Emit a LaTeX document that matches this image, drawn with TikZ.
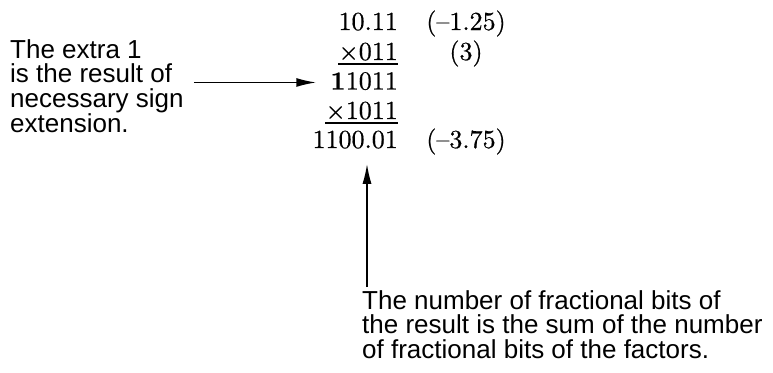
\documentclass[tikz,border=0pt]{standalone}
\usepackage{fontspec}
\setmainfont{lmroman10-regular}[Extension=.otf, BoldFont=lmroman10-bold, FakeBold=0.6]
\setsansfont{Liberation Sans}
\usetikzlibrary{arrows.meta}

\begin{document}
\begin{tikzpicture}[x=1pt,y=-1pt,>={Latex[length=20pt,width=9pt]},
  num/.style={inner sep=0pt, anchor=base east, font=\fontsize{26}{30}\selectfont},
  val/.style={inner sep=0pt, anchor=base, font=\fontsize{26}{30}\selectfont},
  note/.style={inner sep=0pt, align=left, anchor=north west, font=\sffamily\fontsize{26}{24.7}\selectfont},
  rule/.style={line width=1.4pt},
  pointer/.style={->, line width=1.6pt}]
\useasboundingbox (0,0) rectangle (773,372);

% the multiplication
\node[num] (r1) at (398,30) {10.11};
\node[num] (r2) at (398,60) {×011};
\node[num] (r3) at (398,89.5) {1011};
\node[num, font=\fontsize{26}{30}\selectfont\bfseries] (sign) at (r3.base west) {1};
\node[num] (r4) at (398,119) {×1011};
\node[num] (r5) at (398,148) {1100.01};

\draw[rule] ([yshift=-4pt]r2.base west) -- ([yshift=-4pt]r2.base east);
\draw[rule] ([yshift=-4pt]r4.base west) -- ([yshift=-4pt]r4.base east);

% decimal values
\node[val] (v1) at (466,30) {(--1.25)};
\node[val] (v2) at (466,60) {(3)};
\node[val] (v5) at (466,148) {(--3.75)};

% remarks
\node[note] (extra) at (10,39) {The extra 1\\is the result of\\necessary sign\\extension.};
\node[note] (frac) at (362,290) {The number of fractional bits of\\the result is the sum of the number\\of fractional bits of the factors.};

\draw[pointer, shorten <=10pt, shorten >=14pt] ([yshift=-1.5pt]extra.east |- sign.west) -- ([yshift=-1.5pt]sign.west);
\draw[pointer, shorten <=3pt, shorten >=15pt] ([xshift=5pt]frac.north west) -- ([xshift=5pt]frac.north west |- r5.south);
\end{tikzpicture}
\end{document}
